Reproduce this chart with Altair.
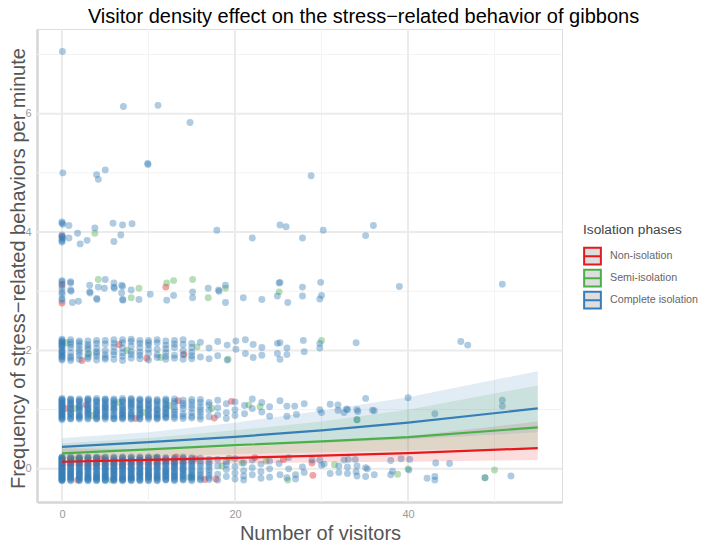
import altair as alt
import pandas as pd

FONT = "Liberation Sans"

series_names = ["Non-isolation", "Semi-isolation", "Complete isolation"]
series_colors = ["#E41A1C", "#4DAF4A", "#377EB8"]

# fitted lines and ribbons
fit_x = [0, 10, 20, 30, 40, 55]
red_fit = [0.12, 0.15, 0.185, 0.225, 0.265, 0.35]
red_low = [0.04, 0.07, 0.09, 0.11, 0.12, 0.15]
red_high = [0.35, 0.33, 0.37, 0.45, 0.55, 0.80]
green_fit = [0.26, 0.33, 0.40, 0.465, 0.535, 0.70]
green_low = [0.16, 0.21, 0.25, 0.28, 0.31, 0.36]
green_high = [0.43, 0.52, 0.65, 0.80, 1.00, 1.41]
blue_fit = [0.37, 0.45, 0.54, 0.65, 0.78, 1.02]
blue_low = [0.27, 0.33, 0.38, 0.44, 0.50, 0.62]
blue_high = [0.52, 0.62, 0.78, 0.98, 1.21, 1.65]

# points, blue first
blue_top = [(0.05, 7.05), (7.1, 6.12), (11.1, 6.14), (14.8, 5.85), (0.1, 5.0), (4.0, 4.97), (4.2, 4.89), (5.0, 5.05),
            (9.9, 5.16), (9.95, 5.14), (28.8, 4.95)]
blue_four = [(0, 4.15), (0, 4.17), (0.1, 4.13), (0, 3.95), (0, 3.92), (0, 3.88), (0, 3.85), (0, 3.83), (0.1, 3.9),
             (0.8, 4.11), (0.8, 3.9), (1.8, 3.98), (2.1, 3.8), (2.9, 3.86), (3.8, 4.07), (5.9, 4.15), (6.0, 3.84),
             (7.0, 4.12), (6.8, 3.95), (8.1, 4.14), (17.9, 4.03), (22.0, 3.9), (25.2, 4.12), (25.9, 4.09), (27.8, 3.9),
             (30.2, 4.03), (35.1, 3.94), (36.0, 4.11)]
blue_three = [(0, 3.18), (0, 3.16), (0, 3.1), (0, 3.05), (0, 2.99), (0, 2.95), (0, 2.88), (0, 2.85), (1.0, 3.16),
              (1.0, 3.14), (1.0, 3.02), (1.05, 3.0), (1.2, 2.81), (1.9, 2.83), (3.2, 3.1), (3.2, 2.99), (3.25, 2.97),
              (4.0, 2.88), (4.05, 2.86), (4.2, 3.07), (4.9, 3.05), (5.0, 3.2), (6.0, 3.14), (6.0, 3.07), (6.05, 3.05),
              (6.9, 3.1), (7.0, 3.08), (6.9, 2.97), (7.0, 2.86), (7.05, 2.85), (8.0, 3.02), (8.9, 2.86), (10.2, 2.95),
              (12.1, 2.85), (12.9, 2.93), (15.1, 2.99), (15.1, 2.89), (16.9, 3.05), (18.1, 3.02), (18.15, 3.0),
              (18.9, 3.1), (18.9, 2.81), (20.96, 2.89), (23.1, 2.86), (24.9, 2.92), (25.2, 3.15), (25.1, 3.14),
              (26.1, 2.81), (27.8, 3.07), (27.8, 2.92), (29.9, 3.15), (30.0, 2.93), (29.8, 2.87), (39.0, 3.08),
              (50.9, 3.12)]
blue_two_columns = [
    (0, [2.19, 2.17, 2.15, 2.12, 2.1, 2.07, 2.04, 2.01, 1.98, 1.95, 1.92, 1.89, 1.86, 1.84, 2.08, 1.97, 2.14, 1.9]),
    (1, [2.14, 2.05, 1.96, 1.87, 1.83]), (2, [2.16, 2.08, 1.92, 1.85]), (3, [2.1, 2.02, 1.89, 1.86]),
    (4, [2.17, 2.12, 1.95, 1.9, 1.84]), (5, [2.11, 2.0, 1.88]), (6, [2.18, 2.06, 1.93, 1.85]),
    (7, [2.13, 2.04, 1.9, 1.83]), (8, [2.19, 2.15, 1.98, 1.87]), (9, [2.12, 2.05, 1.92, 1.86]),
    (10, [2.17, 2.09, 1.95, 1.84]), (11, [2.13, 2.02, 1.88]), (12, [2.16, 1.96, 1.9, 1.85]), (13, [2.11, 2.05, 1.87]),
    (14, [2.18, 2.0, 1.93]), (15, [2.12, 1.97, 1.86]), (16, [2.14, 1.89]), (17, [2.04, 1.86]), (18, [2.15, 1.91]),
    (19.1, [2.09, 1.84]), (20.1, [2.16, 2.02]), (21.2, [2.18, 1.95]), (22.1, [2.1, 1.88]), (23.1, [2.05, 1.92]),
    (24.9, [2.12, 1.95]), (25.2, [2.13, 1.85]), (26.0, [2.04, 1.93]),
    (1, [2.18, 2.1, 1.9]), (2, [2.02, 1.97, 2.13]), (3, [2.16, 1.94, 2.06]), (4, [2.04, 1.98]), (5, [2.17, 1.93, 1.85]),
    (6, [2.12, 1.98]), (7, [2.18, 1.96]), (8, [2.07, 1.93]), (9, [2.17, 1.97]), (10, [2.13, 2.02]), (11, [2.18, 1.93]),
    (12, [2.09, 2.03]), (13, [2.17, 1.92]), (14, [2.1, 1.85]), (15, [2.05, 1.91]),
]
blue_two = [(27.9, 2.17), (29.8, 2.12), (29.8, 2.04), (28.0, 1.98), (34.0, 2.13), (46.1, 2.15), (46.9, 2.09)]
blue_one_columns = [
    (0, [1.19, 1.17, 1.15, 1.13, 1.11, 1.09, 1.07, 1.05, 1.03, 1.01, 0.99, 0.97, 0.95, 0.93, 0.91, 0.89, 0.87, 0.85, 0.83,
         1.16, 1.1, 1.04, 0.98, 0.92, 0.86]),
    (1, [1.18, 1.12, 1.06, 1.0, 0.96, 0.9, 0.84]), (2, [1.16, 1.08, 1.03, 0.94, 0.88, 0.84]),
    (3, [1.17, 1.1, 1.05, 0.98, 0.92, 0.86, 1.14]), (4, [1.19, 1.13, 1.04, 0.96, 0.89, 0.85]),
    (5, [1.15, 1.09, 1.01, 0.93, 0.87, 1.18, 1.05]), (6, [1.18, 1.11, 1.03, 0.97, 0.9, 0.84]),
    (7, [1.16, 1.07, 1.0, 0.92, 0.86, 1.12]), (8, [1.19, 1.12, 1.05, 0.95, 0.88, 0.84]),
    (9, [1.15, 1.08, 0.99, 0.91, 0.85, 1.03]), (10, [1.18, 1.1, 1.02, 0.94, 0.87, 1.14]),
    (11, [1.17, 1.06, 0.98, 0.9, 0.84]), (12, [1.14, 1.08, 1.0, 0.92, 0.86]), (13, [1.18, 1.04, 0.96, 0.88, 1.11]),
    (14, [1.16, 1.07, 0.93, 0.85]), (15, [1.13, 1.02, 0.89, 0.86]), (16, [1.17, 1.05, 0.95, 0.84]),
    (17, [1.12, 0.99, 0.88, 1.08]), (18, [1.16, 1.03, 0.91]), (19, [1.1, 0.95, 0.85]), (20, [1.13, 1.0, 0.9]),
    (21.1, [1.07, 0.93]), (22, [1.18, 1.02]), (23.1, [1.12, 0.96]), (24, [1.05, 0.89]),
    (1, [1.15, 1.03, 0.93, 0.87, 1.09]), (2, [1.13, 1.0, 0.91, 1.18, 1.05]), (3, [1.02, 0.95, 0.89, 1.19]),
    (4, [1.16, 1.08, 1.0, 0.92, 0.87]), (5, [1.12, 0.98, 0.9, 0.84]), (6, [1.14, 1.07, 1.0, 0.87]),
    (7, [1.19, 1.03, 0.95, 0.89, 0.84]), (8, [1.15, 1.08, 1.0, 0.91]), (9, [1.18, 1.11, 0.95, 0.88]),
    (10, [1.06, 0.98, 0.91, 0.84]), (11, [1.13, 1.02, 0.94, 0.87]), (12, [1.18, 1.04, 0.96, 0.89]),
    (13, [1.14, 1.0, 0.92, 0.85]), (14, [1.11, 1.02, 0.89]), (15, [1.17, 1.07, 0.95]), (16, [1.12, 1.0, 0.89]),
    (1, [1.17, 1.1, 1.01, 0.94, 0.85]), (2, [1.14, 1.06, 0.98, 0.89, 0.86]), (3, [1.16, 1.07, 1.0, 0.94, 0.84]),
    (4, [1.14, 1.06, 0.98, 0.94, 0.84]), (5, [1.17, 1.07, 0.96, 0.88, 1.03]), (6, [1.16, 1.09, 1.02, 0.92, 0.85]),
    (7, [1.14, 1.05, 0.98, 0.93, 0.87]), (8, [1.17, 1.1, 1.03, 0.93, 0.86]), (9, [1.16, 1.06, 1.01, 0.93, 0.84]),
    (10, [1.16, 1.08, 1.0, 0.89]), (11, [1.15, 1.09, 1.0, 0.92, 0.86]), (12, [1.16, 1.1, 1.02, 0.94, 0.87]),
]
blue_one = [(25.2, 1.15), (26.0, 1.06), (26.9, 1.06), (26.0, 0.89), (27.1, 0.92), (28.0, 1.1), (29.8, 1.0), (30.0, 0.95),
            (31.0, 1.09), (31.9, 1.08), (31.9, 0.99), (32.6, 0.95), (32.9, 1.01), (33.0, 1.0), (34.1, 1.0), (34.2, 0.97),
            (34.1, 0.83), (35.1, 1.19), (35.9, 0.99), (36.1, 0.98), (40.0, 1.2), (43.1, 0.93), (50.9, 1.16), (50.9, 1.06)]
blue_zero_columns = [
    (0, [0.2, 0.18, 0.16, 0.14, 0.12, 0.1, 0.08, 0.06, 0.04, 0.02, 0.0, -0.02, -0.04, -0.06, -0.08, -0.1, -0.12, -0.14, -0.16,
         -0.18, -0.2, 0.15, 0.09, 0.03, -0.03, -0.09, -0.15]),
    (1, [0.19, 0.13, 0.07, 0.01, -0.05, -0.11, -0.17, -0.2, 0.1, -0.08]),
    (2, [0.18, 0.12, 0.05, -0.01, -0.07, -0.13, -0.19, 0.15, 0.02, -0.1]),
    (3, [0.2, 0.14, 0.08, 0.0, -0.06, -0.12, -0.18, 0.04, -0.15, 0.11]),
    (4, [0.17, 0.11, 0.03, -0.04, -0.09, -0.16, -0.2, 0.07, 0.14, -0.12]),
    (5, [0.19, 0.12, 0.06, -0.02, -0.08, -0.14, -0.19, 0.02, -0.11, 0.15]),
    (6, [0.2, 0.13, 0.05, -0.03, -0.1, -0.17, 0.09, -0.06, -0.2, 0.01]),
    (7, [0.18, 0.1, 0.04, -0.01, -0.07, -0.13, -0.19, 0.14, -0.16, 0.07]),
    (8, [0.19, 0.12, 0.02, -0.05, -0.11, -0.18, 0.08, -0.15, -0.08, 0.15]),
    (9, [0.17, 0.09, 0.03, -0.04, -0.1, -0.16, -0.2, 0.13, -0.07]),
    (10, [0.2, 0.14, 0.06, -0.02, -0.09, -0.17, 0.1, -0.13, 0.01]),
    (11, [0.18, 0.11, 0.04, -0.06, -0.12, -0.19, -0.15, 0.08]),
    (12, [0.16, 0.09, 0.0, -0.05, -0.11, -0.18, 0.13, -0.08]),
    (13, [0.19, 0.07, 0.02, -0.07, -0.14, -0.2, 0.12]),
    (14, [0.17, 0.1, -0.01, -0.09, -0.16, 0.05]),
    (15, [0.14, 0.06, -0.04, -0.12, -0.18]),
    (16, [0.18, 0.08, -0.02, -0.1, -0.17]),
    (17, [0.11, 0.03, -0.06, -0.15]),
    (18, [0.16, 0.05, -0.09, -0.19]),
    (19, [0.12, -0.01, -0.13, 0.07]),
    (20, [0.17, 0.04, -0.07, -0.17]),
    (21, [0.1, -0.03, -0.12, -0.19]),
    (22, [0.15, 0.02, -0.1]),
    (23, [0.08, -0.05, -0.16]),
    (24, [0.13, 0.0, -0.14]),
    (0, [0.19, 0.17, 0.13, 0.11, 0.07, 0.05, 0.01, -0.01, -0.05, -0.07, -0.11, -0.13, -0.17, -0.19, 0.19, -0.19]),
    (1, [0.16, 0.04, -0.02, -0.14, 0.18, -0.19, 0.08, -0.06]),
    (2, [0.2, 0.09, -0.04, -0.16, 0.07, -0.08, -0.2, 0.17]),
    (3, [0.17, 0.06, -0.03, -0.09, -0.2, 0.02, 0.19, -0.15]),
    (4, [0.2, 0.09, 0.0, -0.07, -0.14, -0.18, 0.05, 0.18]),
    (5, [0.17, 0.09, 0.0, -0.05, -0.17, -0.2, 0.04, -0.12]),
    (6, [0.17, 0.11, 0.03, -0.08, -0.13, -0.19, -0.01, 0.07]),
    (7, [0.2, 0.12, 0.02, -0.04, -0.1, -0.17, -0.2, 0.05]),
    (8, [0.17, 0.1, 0.05, -0.02, -0.13, -0.2, 0.0, -0.16]),
    (9, [0.19, 0.11, 0.05, -0.02, -0.12, -0.18, 0.0, 0.15]),
    (10, [0.18, 0.11, 0.03, -0.05, -0.11, -0.19, -0.15, -0.07]),
    (11, [0.2, 0.13, 0.06, -0.02, -0.09, -0.17, 0.01]),
    (12, [0.18, 0.05, -0.03, -0.14, -0.19, 0.11]),
    (13, [0.15, 0.04, -0.03, -0.11, -0.17, 0.09]),
    (14, [0.2, 0.13, 0.02, -0.06, -0.13, -0.19]),
    (15, [0.17, 0.1, 0.01, -0.08, -0.15]),
    (16, [0.13, 0.04, -0.06, -0.14, -0.19]),
    (17, [0.16, 0.07, -0.02, -0.11, -0.18]),
    (1, [0.15, 0.09, 0.03, -0.03, -0.09, -0.13, -0.16, 0.2]),
    (2, [0.16, 0.1, 0.03, -0.03, -0.09, -0.14, -0.17, 0.19]),
    (3, [0.18, 0.12, 0.05, -0.01, -0.07, -0.11, -0.16, -0.19]),
    (4, [0.19, 0.15, 0.1, 0.02, -0.02, -0.1, -0.15, -0.19]),
    (5, [0.2, 0.14, 0.08, 0.01, -0.04, -0.09, -0.13, -0.18]),
    (6, [0.18, 0.14, 0.08, 0.0, -0.05, -0.11, -0.15, -0.18]),
    (7, [0.19, 0.15, 0.08, 0.03, -0.02, -0.08, -0.14, -0.18]),
    (8, [0.2, 0.13, 0.07, 0.01, -0.04, -0.09, -0.14, -0.19]),
    (9, [0.2, 0.14, 0.08, 0.02, -0.06, -0.09, -0.14, -0.19]),
    (10, [0.19, 0.15, 0.08, 0.02, -0.03, -0.09, -0.13, -0.2]),
    (11, [0.19, 0.15, 0.09, 0.02, -0.04, -0.1, -0.14, -0.2]),
    (12, [0.19, 0.14, 0.07, 0.02, -0.04, -0.09, -0.13, -0.17]),
    (13, [0.17, 0.11, 0.05, 0.0, -0.05, -0.09, -0.13, -0.18]),
    (14, [0.18, 0.12, 0.07, 0.0, -0.04, -0.11, -0.18]),
    (15, [0.19, 0.12, 0.04, -0.02, -0.1, -0.14, -0.2]),
]
blue_zero = [(25.2, -0.1), (25.1, 0.09), (26.0, -0.15), (26.2, 0.0), (26.2, 0.19), (27.0, -0.1), (27.0, -0.17), (27.8, 0.03),
             (28.0, -0.06), (28.9, 0.15), (29.8, 0.15), (30.3, 0.08), (30.0, 0.06), (31.0, -0.08), (32.6, 0.15), (32.0, 0.05),
             (32.0, -0.06), (33.1, 0.16), (33.9, 0.16), (33.0, 0.03), (33.0, -0.08), (34.1, 0.05), (34.0, -0.05), (34.1, -0.12),
             (35.1, 0.02), (35.3, 0.0), (35.1, -0.13), (36.1, -0.1), (38.0, 0.14), (39.2, 0.17), (40.2, 0.16), (40.1, -0.02),
             (38.0, -0.1), (38.2, -0.04), (43.2, 0.1), (44.8, 0.09), (42.2, -0.16), (43.1, -0.13), (43.1, -0.19), (48.9, -0.15),
             (51.9, -0.12)]

green_points = [(3.8, 3.98), (4.2, 3.2), (8.9, 3.05), (8.0, 2.89), (12.1, 3.14), (12.9, 3.18), (15.1, 3.2), (16.9, 2.89),
                (18.9, 3.05), (25.1, 2.99), (30.0, 2.17), (34.1, 0.83), (0.5, 2.13), (3.1, 1.95), (7.5, 2.0), (11.4, 1.88),
                (15.6, 2.06), (19.2, 1.85), (1.5, 1.02), (3.5, 0.9), (6.6, 1.12), (9.4, 0.95), (12.4, 1.07), (17.3, 1.02),
                (21.6, 1.08), (22.9, 1.05), (1.4, 0.16), (5.7, -0.19), (10.8, 0.19), (14.8, -0.14), (19.3, 0.18), (20.8, 0.1),
                (26.1, -0.19), (31.5, 0.07), (38.8, -0.09), (40.0, 0.0), (48.9, -0.15), (50.0, -0.02), (18.5, 0.05), (23.6, 0.13)]
red_points = [(0, 3.93), (0, 2.8), (0, 3.12), (12.0, 3.07), (6.6, 2.1), (14.1, 1.93), (2.3, 1.83), (9.8, 1.87),
              (0.4, 1.02), (2.8, 1.08), (8.5, 0.85), (13.4, 1.15), (17.6, 0.86), (19.6, 1.14), (1.8, -0.19), (4.6, 0.17),
              (13.2, 0.2), (15.4, 0.17), (16.5, -0.18), (17.8, -0.17), (22.3, 0.19), (25.6, 0.16), (28.9, 0.1), (29.0, -0.11)]

minor_x = [10, 30, 50]
major_x = [0, 20, 40]
minor_y = [1, 3, 5, 7]
major_y = [0, 2, 4, 6]

blue_points = blue_top + blue_four + blue_three + blue_two + blue_one + blue_zero
for columns in (blue_two_columns, blue_one_columns, blue_zero_columns):
    for col_x, col_ys in columns:
        blue_points += [(col_x, v) for v in col_ys]

rows = []
for name, pts in zip(series_names, (red_points, green_points, blue_points)):
    rows += [{"visitors": a, "freq": b, "phase": name} for a, b in pts]
points_df = pd.DataFrame(rows)

rows = []
for name, fit, low, high in zip(series_names, (red_fit, green_fit, blue_fit), (red_low, green_low, blue_low),
                                (red_high, green_high, blue_high)):
    for i in range(len(fit_x)):
        rows.append({"visitors": fit_x[i], "fit": fit[i], "low": low[i], "high": high[i], "phase": name})
fit_df = pd.DataFrame(rows)

x_scale = alt.Scale(domain=[-2.89, 57.8], nice=False, zero=False)
y_scale = alt.Scale(domain=[-0.56, 7.43], nice=False, zero=False)
line_scale = alt.Scale(domain=series_names, range=series_colors)
# same mapping in another order, otherwise Vega-Lite merges the hidden legend into the line legend
fill_scale = alt.Scale(domain=series_names[::-1], range=series_colors[::-1])

x_axis = alt.Axis(
    title="Number of visitors", values=major_x, grid=False, ticks=False, format="d",
    labelColor="#999999", labelFontSize=11, labelPadding=6, titleFontSize=20, titleColor="#555555",
    titleFontWeight="normal", titleX=283, titleY=37, titleBaseline="alphabetic",
    domainColor="#D6D6D6", domainWidth=2.5)
y_axis = alt.Axis(
    title="Frequency of stress\u2212related behaviors per minute", values=major_y, grid=False, ticks=False, format="d",
    labelColor="#999999", labelFontSize=11, labelPadding=6, titleFontSize=20, titleColor="#555555",
    titleFontWeight="normal", titleX=-13, titleY=239, titleBaseline="alphabetic",
    domainColor="#D6D6D6", domainWidth=2.5)
legend = alt.Legend(
    title="Isolation phases", orient="none", legendX=546, legendY=194,
    symbolType="M-1,-1H1V1H-1ZM-1,0H1", symbolSize=280, symbolStrokeWidth=2, symbolFillColor="#DEDEDE",
    titleFontSize=13.7, titleFontWeight="normal", titleColor="#444444", titlePadding=10,
    labelFontSize=10.7, labelColor="#666666", labelOffset=8, rowPadding=-3)
color = alt.Color("phase:N", scale=fill_scale, legend=None)


def vrules(values, width, rule_color):
    return alt.Chart(pd.DataFrame({"v": values})).mark_rule(strokeWidth=width, color=rule_color).encode(
        x=alt.X("v:Q", scale=x_scale, axis=x_axis))


def hrules(values, width, rule_color):
    return alt.Chart(pd.DataFrame({"v": values})).mark_rule(strokeWidth=width, color=rule_color).encode(
        y=alt.Y("v:Q", scale=y_scale, axis=y_axis))


dots = alt.Chart(points_df).mark_circle(size=48, opacity=0.4, stroke="transparent").encode(
    x=alt.X("visitors:Q", scale=x_scale, axis=x_axis),
    y=alt.Y("freq:Q", scale=y_scale, axis=y_axis),
    color=color,
)

ribbons = alt.Chart(fit_df).mark_area(opacity=0.15).encode(
    x=alt.X("visitors:Q", scale=x_scale, axis=x_axis),
    y=alt.Y("low:Q", scale=y_scale, axis=y_axis),
    y2="high:Q",
    color=color,
)

lines = alt.Chart(fit_df).mark_line(strokeWidth=2.2).encode(
    x=alt.X("visitors:Q", scale=x_scale, axis=x_axis),
    y=alt.Y("fit:Q", scale=y_scale, axis=y_axis),
    stroke=alt.Stroke("phase:N", scale=line_scale, sort=series_names, legend=legend),
)

chart = alt.layer(
    vrules(minor_x, 1, "#F3F3F3"), hrules(minor_y, 1, "#F3F3F3"),
    vrules(major_x, 2, "#EBEBEB"), hrules(major_y, 2, "#EBEBEB"),
    dots, ribbons, lines,
).properties(
    width=525,
    height=473,
    autosize=alt.AutoSizeParams(type="none"),
    padding={"left": 29, "top": 21, "right": 138, "bottom": 41},
    title=alt.TitleParams("Visitor density effect on the stress\u2212related behavior of gibbons", fontSize=20,
                          fontWeight="normal", color="#000000", anchor="middle", dx=64, offset=1),
).configure_view(stroke="transparent").configure(font=FONT)

chart.save("out.html", embed_options={"renderer": "svg", "actions": False})
